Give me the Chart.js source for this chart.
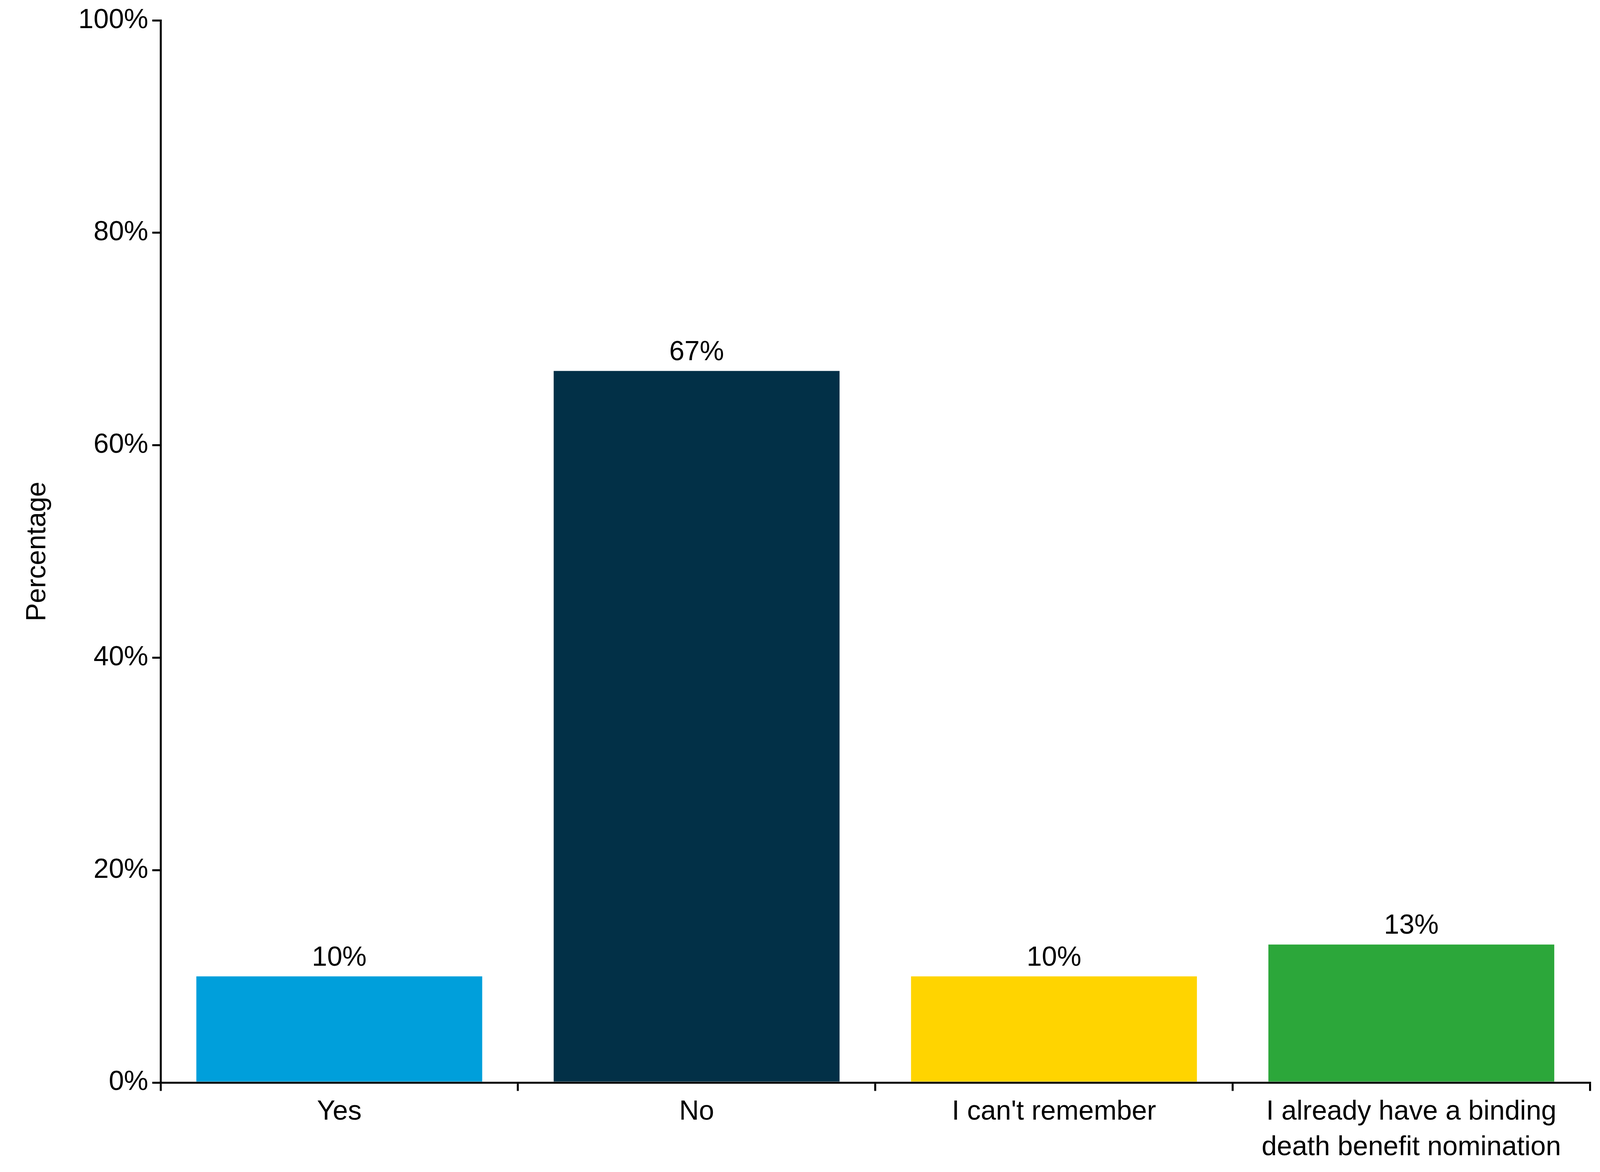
<!DOCTYPE html>
<html>
<head>
<meta charset="utf-8">
<script src="https://cdn.jsdelivr.net/npm/chart.js@4"></script>
<style>
  html, body { margin: 0; padding: 0; background: #fff; overflow: hidden; }
  #wrap { width: 100vw; height: 100vh; position: relative; }
</style>
</head>
<body>
<div id="wrap"><canvas id="chart"></canvas></div>
<script>
// data
const categories = ['Yes', 'No', "I can't remember", ['I already have a binding', 'death benefit nomination']];
const values = [10, 67, 10, 13];
const barColors = ['#009fdb', '#023047', '#ffd400', '#2ca73a'];

const FONT = "'Liberation Sans', Arial, sans-serif";
// everything was sized for a 4800px wide page; scale to the actual css width
const s = window.innerWidth / 4800;

// draws the percentage above each bar
const valueLabels = {
  id: 'valueLabels',
  afterDatasetsDraw(chart) {
    const ctx = chart.ctx;
    const meta = chart.getDatasetMeta(0);
    ctx.save();
    ctx.fillStyle = '#000';
    ctx.font = (82 * s) + 'px ' + FONT;
    ctx.textAlign = 'center';
    ctx.textBaseline = 'bottom';
    meta.data.forEach((bar, i) => {
      ctx.fillText(values[i] + '%', bar.x, bar.y - 14 * s);
    });
    ctx.restore();
  }
};

new Chart(document.getElementById('chart'), {
  type: 'bar',
  data: {
    labels: categories,
    datasets: [{
      data: values,
      backgroundColor: barColors,
      barPercentage: 0.8,
      categoryPercentage: 1.0
    }]
  },
  options: {
    responsive: true,
    maintainAspectRatio: false,
    animation: false,
    layout: { padding: { top: 50 * s, right: 30 * s, left: 60 * s, bottom: 10 * s } },
    plugins: { legend: { display: false }, tooltip: { enabled: false } },
    scales: {
      x: {
        grid: { drawOnChartArea: false, color: '#000', lineWidth: 6 * s, tickLength: 25 * s, offset: true },
        border: { color: '#000', width: 6 * s },
        ticks: { color: '#000', font: { family: FONT, size: 82 * s, lineHeight: 1.3 }, padding: 10 * s, maxRotation: 0 }
      },
      y: {
        min: 0,
        max: 100,
        grid: { drawOnChartArea: false, color: '#000', lineWidth: 6 * s, tickLength: 25 * s },
        border: { color: '#000', width: 6 * s },
        ticks: {
          stepSize: 20,
          color: '#000',
          font: { family: FONT, size: 82 * s },
          padding: 12 * s,
          callback: v => v + '%'
        },
        title: {
          display: true,
          text: 'Percentage',
          color: '#000',
          font: { family: FONT, size: 82 * s },
          padding: { bottom: 60 * s }
        }
      }
    }
  },
  plugins: [valueLabels]
});
</script>
</body>
</html>
